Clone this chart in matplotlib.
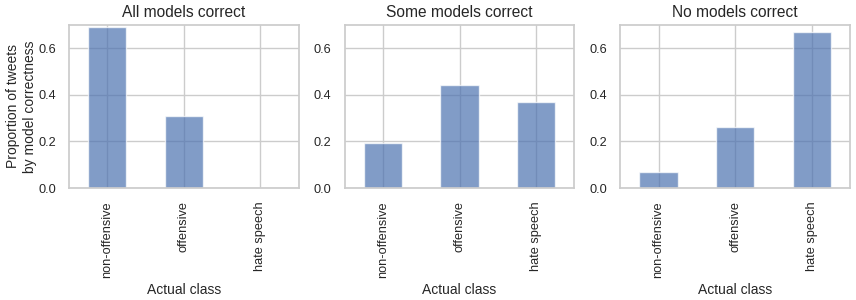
import matplotlib
matplotlib.use('Agg')
import matplotlib.pyplot as plt
import seaborn as sns
import pandas as pd

sns.set_theme(style='whitegrid', context='notebook')
plt.rcParams['font.family'] = ['Liberation Sans', 'DejaVu Sans']

classes = ['non-offensive', 'offensive', 'hate speech']
titles = ['All models correct', 'Some models correct', 'No models correct']
all_correct = [0.69, 0.31, 0.001]
some_correct = [0.193, 0.443, 0.37]
none_correct = [0.068, 0.262, 0.672]

df = pd.DataFrame({titles[0]: all_correct,
                   titles[1]: some_correct,
                   titles[2]: none_correct}, index=classes)

fig, axes = plt.subplots(1, 3, figsize=(8.56, 3.0), dpi=100)
for ax, t in zip(axes, titles):
    df[t].plot(kind='bar', ax=ax, color='#4c72b0', alpha=0.7)
    ax.set_title(t, fontsize=11.2)
    ax.set_ylim(0, 0.7)
    ax.set_xlabel('Actual class', fontsize=10)
    ax.set_yticks([0.0, 0.2, 0.4, 0.6])
    ax.tick_params(labelsize=9.2)
axes[0].set_ylabel('Proportion of tweets\nby model correctness', fontsize=10, labelpad=1)

fig.subplots_adjust(left=0.0806, right=0.993, top=0.9167, bottom=0.3733, wspace=0.2)
fig.savefig('out.png', dpi=100)
